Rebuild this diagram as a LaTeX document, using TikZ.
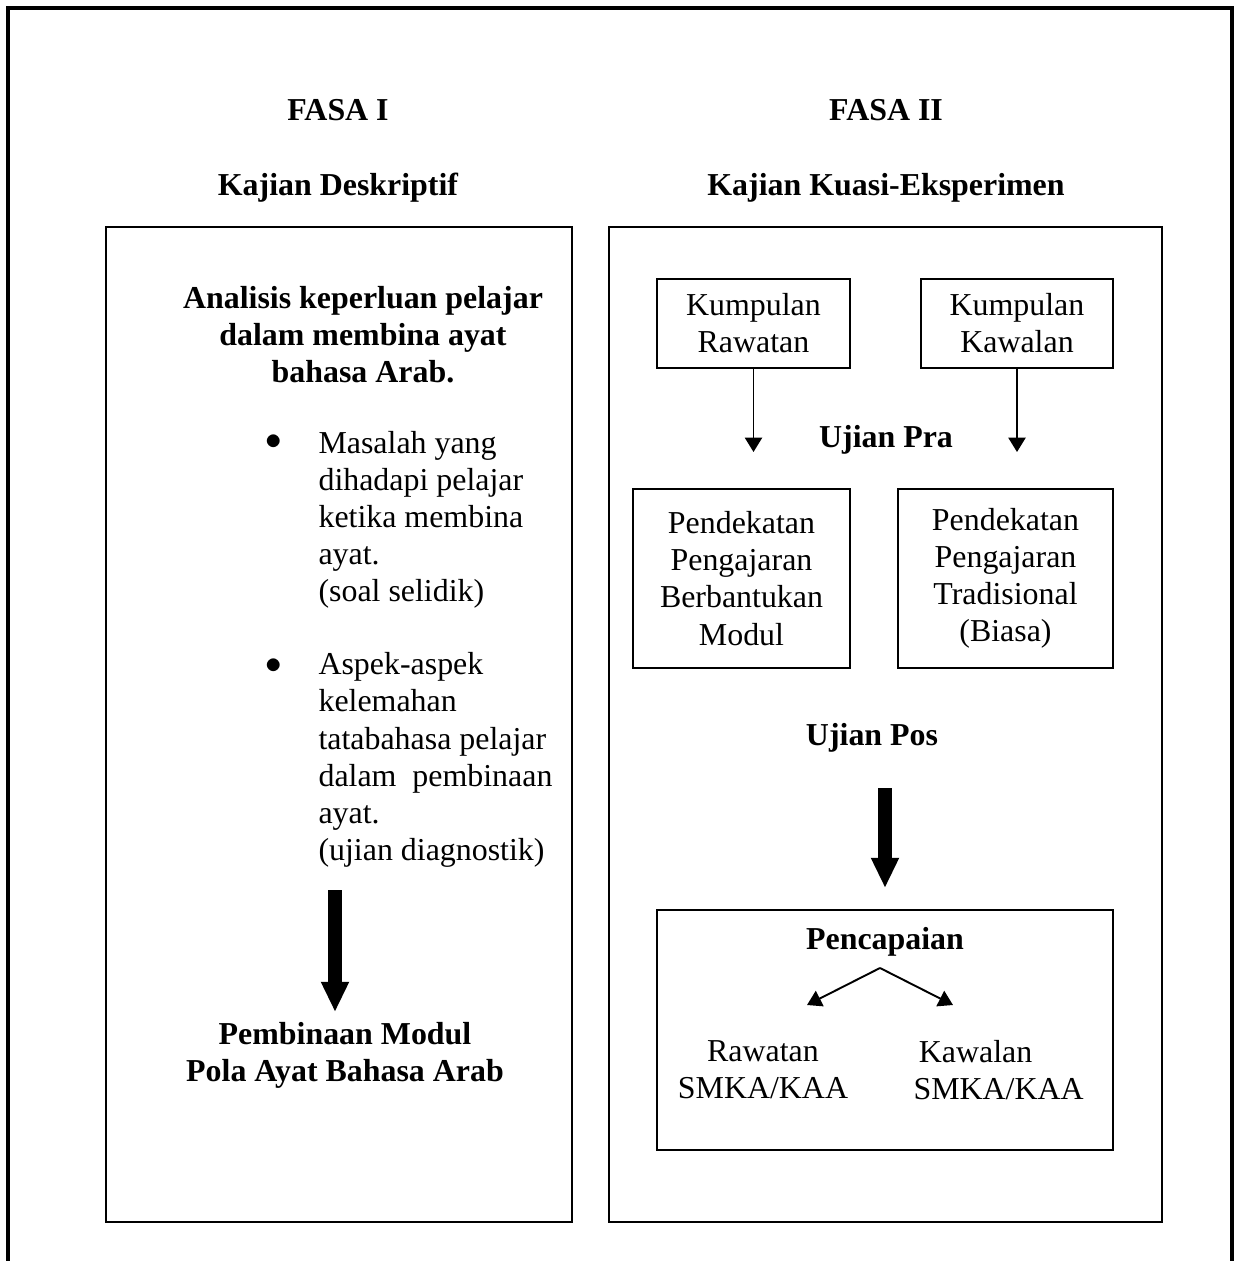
\documentclass[tikz,border=0pt]{standalone}
\usepackage{fontspec}
\setmainfont{Liberation Serif}
\usetikzlibrary{arrows.meta,positioning}

\begin{document}
\begin{tikzpicture}[
          x=0.3636pt, y=-0.3636pt,
          font=\fontsize{11.6}{13.5}\selectfont,
          frame/.style={draw, line width=0.75pt},
          box/.style={draw, line width=0.75pt, align=center, inner sep=0pt},
          head/.style={font=\fontsize{11.6}{13.5}\selectfont\bfseries, align=center, inner sep=0pt},
          txt/.style={align=center, inner sep=0pt},
          thinarrow/.style={line width=0.7pt, -{Triangle[width=6.2pt,length=5.2pt]}},
          fatarrow/.style={line width=5pt, -{Triangle[width=9.5pt,length=11pt]}}
        ]

        \useasboundingbox (0,0) rectangle (1234,1261);

        % Outer frame (open at the bottom)
        \draw[line width=1.1pt] (8,1261) -- (8,8) -- (1232,8) -- (1232,1261);

        % Headings
        \node[head] (F1) at (338,110) {FASA I};
        \node[head] (F2) at (886,110) {FASA II};
        \node[head] (K1) at (338,188) {Kajian Deskriptif};
        \node[head] (K2) at (886,188) {Kajian Kuasi-Eksperimen};

        % Phase boxes
        \draw[frame] (106,227) rectangle (572,1222);
        \draw[frame] (609,227) rectangle (1162,1222);

        % Left side
        \node[head] (A) at (363,335) {Analisis keperluan pelajar\\dalam membina ayat\\bahasa Arab.};
        \node[txt] (B1) at (274,442) {$\bullet$};
        \node[txt, align=left, anchor=west] (M1) at (318,520)
          {Masalah yang\\dihadapi pelajar\\ketika membina\\ayat.\\(soal selidik)};
        \node[txt] (B2) at (274,666) {$\bullet$};
        \node[txt, align=left, anchor=west] (M2) at (318,760)
          {Aspek-aspek\\kelemahan\\tatabahasa pelajar\\dalam~~pembinaan\\ayat.\\(ujian diagnostik)};
        \node[head] (P) at (345,1055) {Pembinaan Modul\\Pola Ayat Bahasa Arab};

        \coordinate (L1) at (335,890);
        \coordinate (L2) at (335,1012);
        \draw[fatarrow] (L1) -- (L2);

        % Right side
        \node[box, minimum width=70.2pt, minimum height=32.4pt] (KR) at (753.5,323.5) {Kumpulan\\Rawatan};
        \node[box, minimum width=69.8pt, minimum height=32.4pt] (KW) at (1017,323.5) {Kumpulan\\Kawalan};
        \node[head] (UPra) at (886,440) {Ujian Pra};
        \node[box, minimum width=78.9pt, minimum height=65.1pt] (PM) at (741.5,578.5)
          {Pendekatan\\Pengajaran\\Berbantukan\\Modul};
        \node[box, minimum width=78.2pt, minimum height=65.1pt] (PT) at (1005.5,578.5)
          {Pendekatan\\Pengajaran\\Tradisional\\(Biasa)};
        \node[head] (UPos) at (872,738) {Ujian Pos};

        \coordinate (KRe) at (753.5,452);
        \coordinate (KWe) at (1017,452);
        \draw[thinarrow] (KR) -- (KRe);
        \draw[thinarrow] (KW) -- (KWe);

        \coordinate (R1) at (885,788);
        \coordinate (R2) at (885,888);
        \draw[fatarrow] (R1) -- (R2);

        % Achievement box
        \node[box, minimum width=165.8pt, minimum height=87.3pt] (PC) at (885,1030) {};
        \node[head] (Pc) at (885,942) {Pencapaian};
        \coordinate (S) at (880,968);
        \coordinate (SL) at (807,1005);
        \coordinate (SR) at (953,1005);
        \draw[thinarrow] (S) -- (SL);
        \draw[thinarrow] (S) -- (SR);
        \node[txt] (RW) at (763,1070) {Rawatan\\SMKA/KAA};
        \node[txt, align=left, anchor=west] (KL) at (913,1070) {\,Kawalan\\SMKA/KAA};

      \end{tikzpicture}
\end{document}
